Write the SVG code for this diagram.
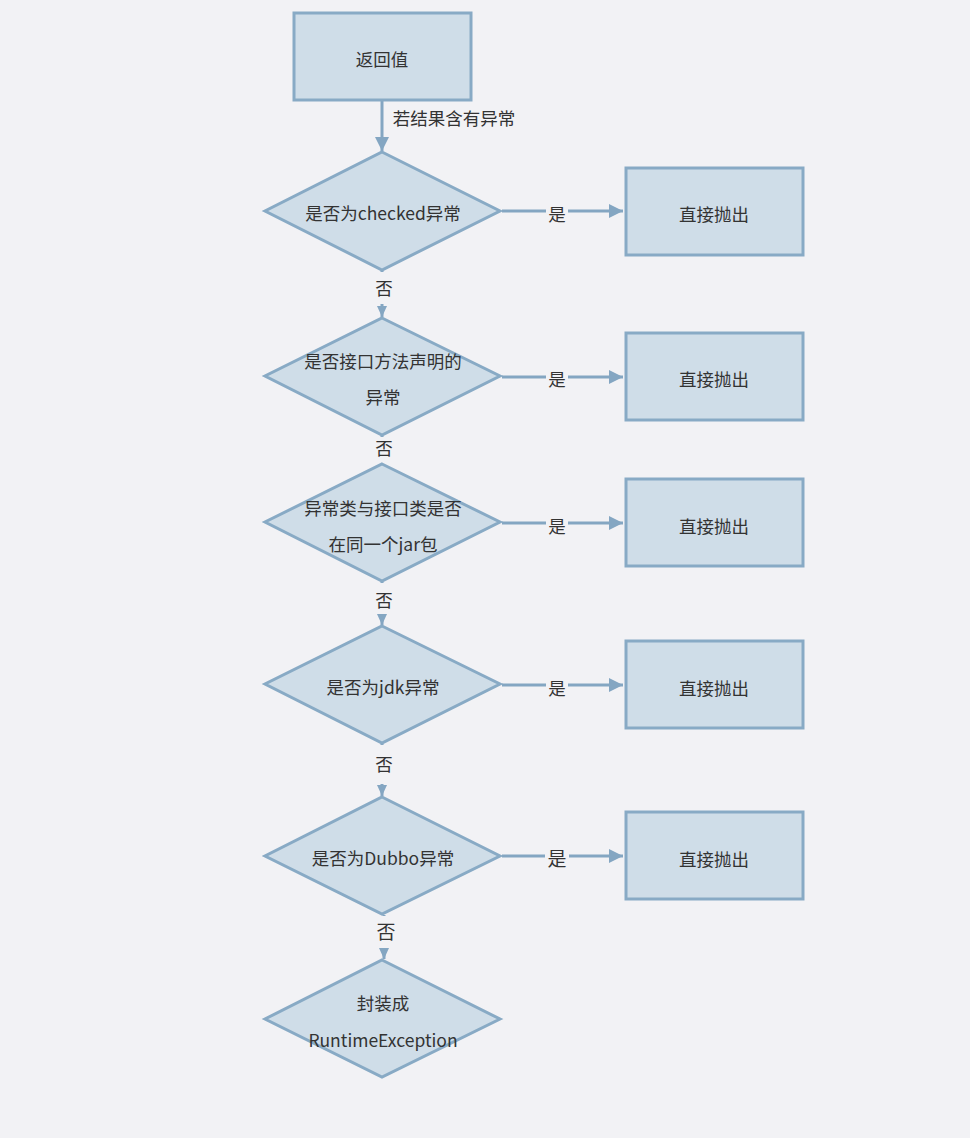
<svg xmlns="http://www.w3.org/2000/svg" width="970" height="1138" viewBox="0 0 970 1138">
<style>
.n{fill:#cfdde8;stroke:#88aac5;stroke-width:3}
.t{font-family:"Noto Sans CJK SC","Liberation Sans",sans-serif;font-size:17.5px;fill:#333;text-anchor:middle;dominant-baseline:central}
.c{stroke:#84a6c2;stroke-width:3;fill:none}
.lb{fill:#f2f2f5}
</style>
<defs>
<marker id="ah" markerUnits="userSpaceOnUse" markerWidth="16" markerHeight="14" refX="14" refY="7" orient="auto">
<path d="M0,0 L14,7 L0,14 Z" fill="#84a6c2"/>
</marker>
<marker id="ahs" markerUnits="userSpaceOnUse" markerWidth="12" markerHeight="12" refX="11" refY="5" orient="auto">
<path d="M0,0 L11,5 L0,10 Z" fill="#84a6c2"/>
</marker>
</defs>
<rect width="970" height="1138" fill="#f2f2f5"/>
<g id="connectors">
<line class="c" x1="382" y1="101" x2="382" y2="151" marker-end="url(#ah)"/>
<text class="t" x="454" y="117">若结果含有异常</text>
<line class="c" x1="502" y1="211" x2="623" y2="211" marker-end="url(#ah)"/>
<line class="c" x1="502" y1="377" x2="623" y2="377" marker-end="url(#ah)"/>
<line class="c" x1="502" y1="523" x2="623" y2="523" marker-end="url(#ah)"/>
<line class="c" x1="502" y1="685" x2="623" y2="685" marker-end="url(#ah)"/>
<line class="c" x1="502" y1="856" x2="623" y2="856" marker-end="url(#ah)"/>
<rect class="lb" x="546" y="200" width="22" height="24"/><text class="t" x="557" y="213">是</text>
<rect class="lb" x="546" y="366" width="22" height="24"/><text class="t" x="557" y="378">是</text>
<rect class="lb" x="546" y="512" width="22" height="24"/><text class="t" x="557" y="525">是</text>
<rect class="lb" x="546" y="674" width="22" height="24"/><text class="t" x="557" y="687">是</text>
<rect class="lb" x="545" y="844" width="24" height="26"/><text class="t" x="557" y="857" style="font-size:19px">是</text>
<line class="c" x1="382" y1="271" x2="382" y2="317" stroke-width="2" marker-end="url(#ahs)"/>
<rect class="lb" x="370" y="272" width="26" height="32"/><text class="t" x="384" y="287">否</text>
<line class="c" x1="382" y1="436" x2="382" y2="463" stroke-width="2" marker-end="url(#ahs)"/>
<rect class="lb" x="370" y="437" width="26" height="26"/><text class="t" x="384" y="447">否</text>
<line class="c" x1="382" y1="582" x2="382" y2="625" stroke-width="2" marker-end="url(#ahs)"/>
<rect class="lb" x="370" y="583" width="26" height="31"/><text class="t" x="384" y="599">否</text>
<line class="c" x1="382" y1="744" x2="382" y2="796" stroke-width="2" marker-end="url(#ahs)"/>
<rect class="lb" x="370" y="745" width="26" height="39"/><text class="t" x="384" y="763">否</text>
<line class="c" x1="384" y1="915" x2="384" y2="959" stroke-width="2" marker-end="url(#ahs)"/>
<rect class="lb" x="372" y="916" width="26" height="32"/><text class="t" x="386" y="930" style="font-size:19px">否</text>
</g>
<g id="start"><rect class="n" x="294" y="13" width="177" height="87"/><text class="t" x="382" y="58">返回值</text></g>
<g id="d1"><polygon class="n" points="382,152 500,211 382,270 265,211"/><text class="t" x="383" y="212">是否为checked异常</text></g>
<g id="d2"><polygon class="n" points="382,318 500,376 382,435 265,376"/><text class="t" x="383" y="360">是否接口方法声明的</text><text class="t" x="383" y="396">异常</text></g>
<g id="d3"><polygon class="n" points="382,464 500,522 382,581 265,522"/><text class="t" x="383" y="507">异常类与接口类是否</text><text class="t" x="383" y="543">在同一个jar包</text></g>
<g id="d4"><polygon class="n" points="382,626 500,684 382,743 265,684"/><text class="t" x="383" y="686">是否为jdk异常</text></g>
<g id="d5"><polygon class="n" points="382,797 500,856 382,914 265,856"/><text class="t" x="383" y="857">是否为Dubbo异常</text></g>
<g id="d6"><polygon class="n" points="382,960 500,1019 382,1077 265,1019"/><text class="t" x="383" y="1002">封装成</text><text class="t" x="383" y="1039">RuntimeException</text></g>
<g id="r1"><rect class="n" x="626" y="168" width="177" height="87"/><text class="t" x="714" y="213">直接抛出</text></g>
<g id="r2"><rect class="n" x="626" y="333" width="177" height="87"/><text class="t" x="714" y="378">直接抛出</text></g>
<g id="r3"><rect class="n" x="626" y="479" width="177" height="87"/><text class="t" x="714" y="525">直接抛出</text></g>
<g id="r4"><rect class="n" x="626" y="641" width="177" height="87"/><text class="t" x="714" y="687">直接抛出</text></g>
<g id="r5"><rect class="n" x="626" y="812" width="177" height="87"/><text class="t" x="714" y="858">直接抛出</text></g>
</svg>
